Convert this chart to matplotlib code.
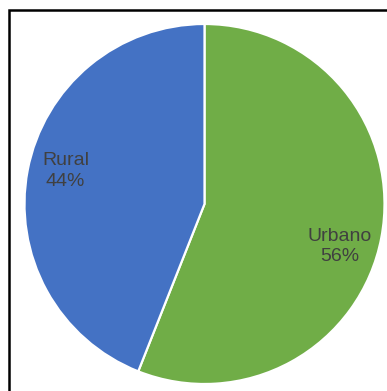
import matplotlib.pyplot as plt
import matplotlib.patches as patches

labels = ['Urbano', 'Rural']
shares = [56, 44]
colors = ['#70AD47', '#4472C4']

plt.rcParams['font.family'] = ['Liberation Sans', 'DejaVu Sans']

W, H = 387, 391
fig = plt.figure(figsize=(W / 100, H / 100), dpi=100)

# pie centred at (204.5, 204) px, radius 180 px
cx, cy, r = 204.5, 204, 180
ax = fig.add_axes([(cx - r) / W, (H - cy - r) / H, 2 * r / W, 2 * r / H])
wedges, _ = ax.pie(shares, colors=colors, startangle=90, counterclock=False,
                   wedgeprops=dict(edgecolor='white', linewidth=1.6))
ax.set_xlim(-1, 1)
ax.set_ylim(-1, 1)
ax.set_aspect('equal')
ax.axis('off')

# data label positions inside each slice
label_pos = {'Urbano': (0.75, -0.235), 'Rural': (-0.772, 0.183)}
for lab, val in zip(labels, shares):
    x, y = label_pos[lab]
    ax.text(x, y, f'{lab}\n{val}%', ha='center', va='center',
            fontsize=14, color='#404040', linespacing=1.25)

# chart frame (open to the right and bottom edges)
frame = patches.Rectangle((9 / W, -0.1), 1.2, (H - 10) / H + 0.1,
                          transform=fig.transFigure, fill=False,
                          edgecolor='black', linewidth=1.8)
fig.patches.append(frame)

fig.savefig('out.png', dpi=100)
